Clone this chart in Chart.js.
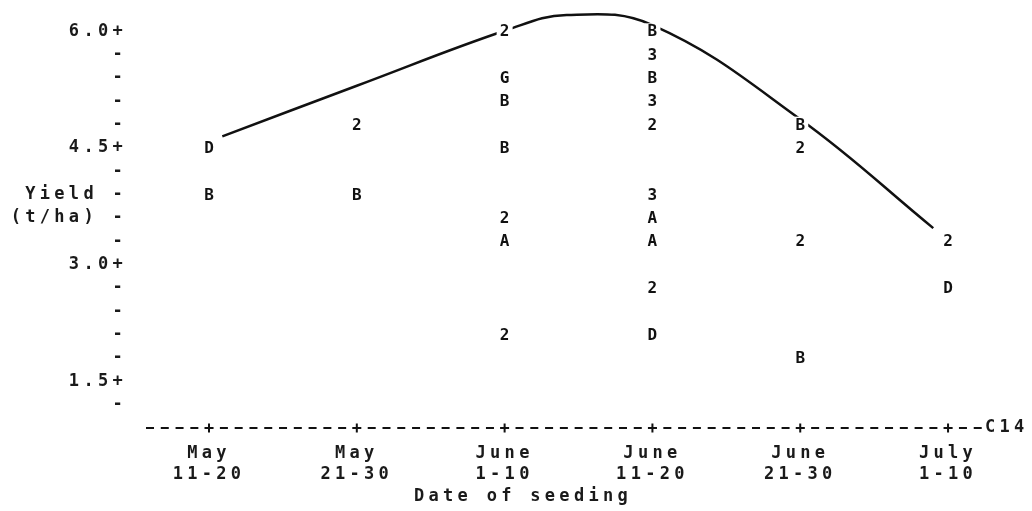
<!DOCTYPE html>
<html>
<head>
<meta charset="utf-8">
<script src="https://cdn.jsdelivr.net/npm/chart.js@4/dist/chart.umd.min.js"></script>
<style>
  body { margin: 0; background: #fff; }
  #wrap { width: 1032px; height: 511px; }
</style>
</head>
<body>
<div id="wrap"><canvas id="myChart" width="1032" height="511"></canvas></div>
<script>
// seeding dates (x categories)
const categories = [['May', '11-20'], ['May', '21-30'], ['June', '1-10'], ['June', '11-20'], ['June', '21-30'], ['July', '1-10']];

// y ticks, printed like a line-printer plot
const yTickValues = [1.2, 1.5, 1.8, 2.1, 2.4, 2.7, 3.0, 3.3, 3.6, 3.9, 4.2, 4.5, 4.8, 5.1, 5.4, 5.7, 6.0];
const yTickLabels = ['-', '1.5+', '-', '-', '-', '-', '3.0+', '-', '(t/ha) -', 'Yield -', '-', '4.5+', '-', '-', '-', '-', '6.0+'];

// plotted observations: category index, yield, plot symbol
const pointCat = [0, 0, 1, 1, 2, 2, 2, 2, 2, 2, 2, 3, 3, 3, 3, 3, 3, 3, 3, 3, 3, 4, 4, 4, 4, 5, 5];
const pointYield = [4.5, 3.9, 4.8, 3.9, 6.0, 5.4, 5.1, 4.5, 3.6, 3.3, 2.1, 6.0, 5.7, 5.4, 5.1, 4.8, 3.9, 3.6, 3.3, 2.7, 2.1, 4.8, 4.5, 3.3, 1.8, 3.3, 2.7];
const pointSym = ['D', 'B', '2', 'B', '2', 'G', 'B', 'B', '2', 'A', '2', 'B', '3', 'B', '3', '2', '3', 'A', 'A', '2', 'D', 'B', '2', '2', 'B', '2', 'D'];

// hand drawn trend curve
const curveX = [0.09, 1.0, 2.02, 2.42, 3.0, 4.0, 4.9];
const curveY = [4.65, 5.30, 6.02, 6.21, 6.08, 4.87, 3.47];

const mono = '"DejaVu Sans Mono", monospace';
const spacing = '4.3px';

const printPlugin = {
  id: 'print',
  beforeDraw(chart) {
    chart.ctx.letterSpacing = spacing;
  },
  beforeDatasetsDraw(chart) {
    // dashed x axis line, like a row of printed '-' characters
    const ctx = chart.ctx;
    const area = chart.chartArea;
    const xs = chart.scales.x;
    const pitch = (xs.getPixelForValue(1) - xs.getPixelForValue(0)) / 10;
    ctx.save();
    ctx.strokeStyle = '#111';
    ctx.lineWidth = 2;
    ctx.setLineDash([8, pitch - 8]);
    ctx.lineDashOffset = 0;
    ctx.beginPath();
    ctx.moveTo(area.left + 1, area.bottom);
    ctx.lineTo(area.right, area.bottom);
    ctx.stroke();
    ctx.restore();
  },
  afterDatasetsDraw(chart) {
    const ctx = chart.ctx;
    const meta = chart.getDatasetMeta(2);
    ctx.save();
    ctx.letterSpacing = '0px';
    ctx.font = 'bold 16px ' + mono;
    ctx.textAlign = 'center';
    ctx.textBaseline = 'middle';
    meta.data.forEach((pt, i) => {
      ctx.fillStyle = '#fff';
      ctx.fillRect(pt.x - 8, pt.y - 8, 16, 16);
      ctx.fillStyle = '#111';
      ctx.fillText(pointSym[i], pt.x, pt.y + 1);
    });
    ctx.restore();
  },
  afterDraw(chart) {
    const ctx = chart.ctx;
    const area = chart.chartArea;
    ctx.save();
    ctx.letterSpacing = spacing;
    ctx.font = 'bold 17px ' + mono;
    ctx.fillStyle = '#1a1a1a';
    ctx.textBaseline = 'middle';
    ctx.textAlign = 'left';
    ctx.fillText('C14', area.right, area.bottom);
    ctx.fillText('Date of seeding', 414, 497);
    ctx.restore();
  }
};

const ctx = document.getElementById('myChart').getContext('2d');
const chart = new Chart(ctx, {
  type: 'scatter',
  data: {
    datasets: [
      {
        label: 'curve',
        type: 'line',
        data: curveX.map((x, i) => ({ x: x, y: curveY[i] })),
        borderColor: '#111',
        borderWidth: 2.5,
        pointRadius: 0,
        tension: 0.4,
        fill: false
      },
      {
        label: 'axis marks',
        data: categories.map((c, i) => ({ x: i, y: 0.9 })),
        pointStyle: 'cross',
        pointRadius: 4.5,
        borderColor: '#111',
        borderWidth: 2,
        clip: false
      },
      {
        label: 'obs',
        data: pointCat.map((c, i) => ({ x: c, y: pointYield[i] })),
        pointRadius: 0
      }
    ]
  },
  options: {
    responsive: false,
    animation: false,
    layout: { padding: { top: 8, right: 47, left: 0, bottom: 0 } },
    plugins: { legend: { display: false }, tooltip: { enabled: false } },
    scales: {
      x: {
        type: 'linear',
        min: -0.433,
        max: 5.25,
        afterBuildTicks: s => { s.ticks = categories.map((c, i) => ({ value: i })); },
        afterFit: s => { s.height = 83; s.paddingLeft = 0; s.paddingRight = 0; },
        grid: { display: false, drawTicks: false },
        border: { display: false },
        ticks: {
          autoSkip: false,
          maxRotation: 0,
          padding: 15,
          color: '#1a1a1a',
          font: { family: mono, size: 17, weight: 'bold', lineHeight: 1.25 },
          callback: v => categories[v]
        }
      },
      y: {
        min: 0.9,
        max: 6.3,
        afterBuildTicks: s => { s.ticks = yTickValues.map(v => ({ value: v })); },
        afterFit: s => { s.width = 145; s.paddingTop = 0; s.paddingBottom = 0; },
        grid: { display: false, drawTicks: false },
        border: { display: false },
        ticks: {
          padding: 18,
          color: '#1a1a1a',
          font: { family: mono, size: 17, weight: 'bold' },
          callback: v => yTickLabels[yTickValues.findIndex(t => Math.abs(t - v) < 1e-6)]
        }
      }
    }
  },
  plugins: [printPlugin]
});
</script>
</body>
</html>
